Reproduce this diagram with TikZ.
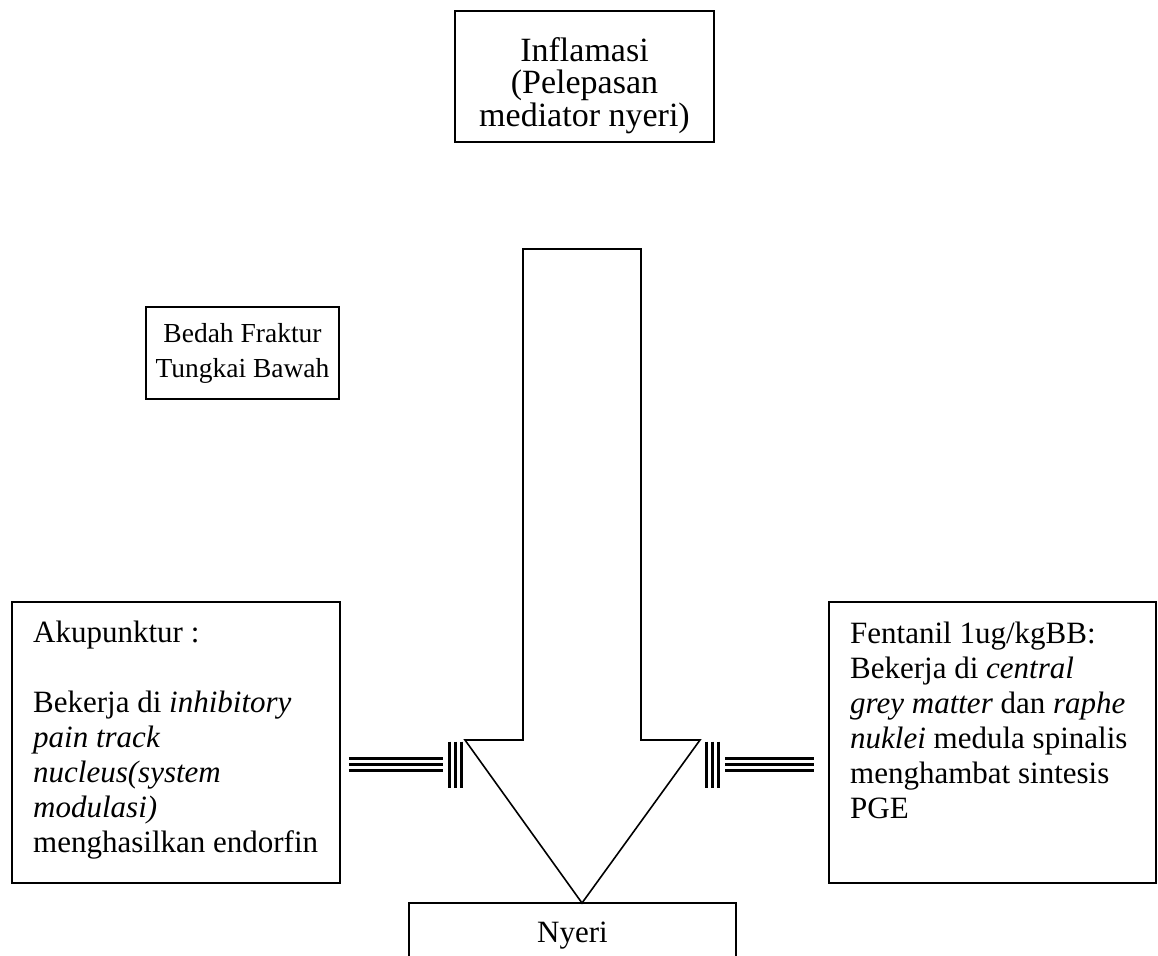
\documentclass[tikz,border=0pt]{standalone}
\usepackage{fontspec}
\setmainfont{Liberation Serif}
\begin{document}
\begin{tikzpicture}[x=1pt,y=-1pt,
  box/.style={draw, line width=1.8pt, inner sep=0pt},
  txt/.style={inner sep=0pt, font=\fontsize{31}{35}\selectfont},
  bigarrow/.style={draw, line width=1.6pt, line join=miter},
  bar/.style={line width=3.3pt}]
\useasboundingbox (0,0) rectangle (1158,955);
\clip (0,0) rectangle (1158,955);

% boxes (multi-line text nodes are anchored at the baseline of their last line)
\node[box, minimum width=259pt, minimum height=131pt] (infl) at (584.5,76.5) {};
\node[txt, align=center, anchor=base, font=\fontsize{34}{33}\selectfont] (infltxt) at (584.5,127)
  {Inflamasi\\(Pelepasan\\mediator nyeri)};

\node[box, minimum width=193pt, minimum height=92pt] (bedah) at (242.5,353) {};
\node[txt, align=center, anchor=base, font=\fontsize{27.5}{35}\selectfont] (bedahtxt) at (242.5,377) {Bedah Fraktur\\Tungkai Bawah};

\node[box, minimum width=328pt, minimum height=281pt] (akup) at (176,742.5) {};
\node[txt, align=left, anchor=base west] (akuptxt) at (33,852)
  {Akupunktur :\\[35pt]Bekerja di \textit{inhibitory}\\\textit{pain track}\\\textit{nucleus(system}\\\textit{modulasi)}\\menghasilkan endorfin};

\node[box, minimum width=327pt, minimum height=281pt] (fent) at (992.5,742.5) {};
\node[txt, align=left, anchor=base west] (fenttxt) at (850,818)
  {Fentanil 1ug/kgBB:\\Bekerja di \textit{central}\\\textit{grey matter} dan \textit{raphe}\\\textit{nuklei} medula spinalis\\menghambat sintesis\\PGE};

\node[box, minimum width=327pt, minimum height=67pt] (nyeri) at (572.5,936.5) {};
\node[txt, anchor=base] (nyeritxt) at (572.5,942) {Nyeri};

% big block arrow
\coordinate (a1) at (523,249);
\coordinate (a2) at (641,249);
\coordinate (a3) at (641,740);
\coordinate (a4) at (700,740);
\coordinate (tip) at (582,903);
\coordinate (a6) at (465,740);
\coordinate (a7) at (523,740);
\draw[bigarrow] (a1) -- (a2) -- (a3) -- (a4) -- (tip) -- (a6) -- (a7) -- cycle;

% inhibition connectors
\coordinate (inhL) at (443,764.5);
\coordinate (inhR) at (725,764.5);
\foreach \d in {-5.8,0,5.8} {
  \draw[bar] ([xshift=8pt, yshift=\d pt]akup.east |- inhL) -- ([yshift=\d pt]inhL);
  \draw[bar] ([yshift=\d pt]inhR) -- ([xshift=-14pt, yshift=\d pt]fent.west |- inhR);
}
\foreach \d in {6.5,12.5,18.5} {
  \draw[bar] ([xshift=\d pt, yshift=23pt]inhL) -- ([xshift=\d pt, yshift=-23pt]inhL);
  \draw[bar] ([xshift=-\d pt, yshift=23pt]inhR) -- ([xshift=-\d pt, yshift=-23pt]inhR);
}
\end{tikzpicture}
\end{document}
